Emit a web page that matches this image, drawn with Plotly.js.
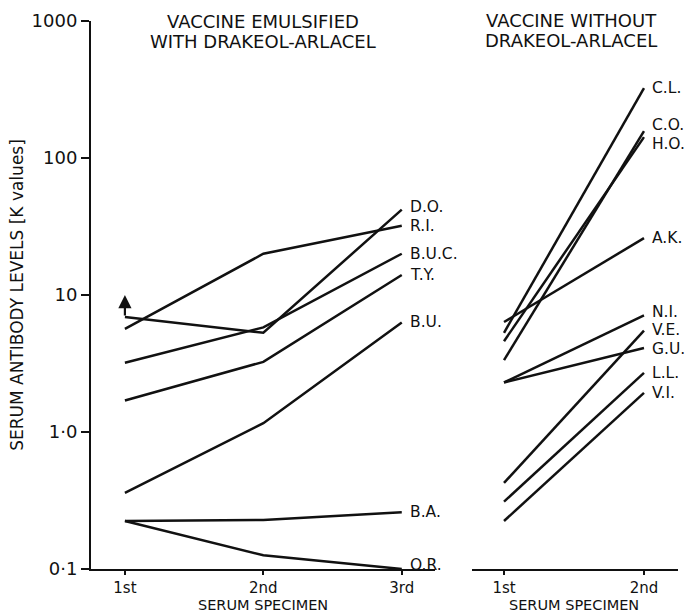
<!DOCTYPE html>
<html>
<head>
<meta charset="utf-8">
<script src="https://cdn.plot.ly/plotly-3.0.1.min.js"></script>
<style>html,body{margin:0;padding:0;background:#fff;}#chart{width:688px;height:615px;}</style>
</head>
<body>
<div id="chart"></div>
<script>
// ---- data ----
const leftCats = ['1st', '2nd', '3rd'];
const rightCats = ['1st', '2nd'];

// Vaccine emulsified with Drakeol-Arlacel (K values at 1st, 2nd, 3rd specimen)
const leftNames = ['D.O.', 'R.I.', 'B.U.C.', 'T.Y.', 'B.U.', 'B.A.', 'O.R.'];
const DO  = [6.9, 5.3, 42];
const RI  = [5.65, 20, 32];
const BUC = [3.2, 5.8, 20];
const TY  = [1.7, 3.25, 14];
const BU  = [0.36, 1.16, 6.3];
const BA  = [0.224, 0.228, 0.26];
const OR  = [0.224, 0.126, 0.10];
const leftSeries = [DO, RI, BUC, TY, BU, BA, OR];
// D.O. first value is a lower bound (arrow up to this level)
const DOarrowTo = 10;

// Vaccine without Drakeol-Arlacel (K values at 1st, 2nd specimen)
const rightNames = ['C.L.', 'C.O.', 'H.O.', 'A.K.', 'N.I.', 'V.E.', 'G.U.', 'L.L.', 'V.I.'];
const CL = [5.3, 324];
const CO = [3.35, 157];
const HO = [4.6, 142];
const AK = [6.35, 26];
const NI = [2.3, 7.1];
const VE = [0.425, 5.5];
const GU = [2.3, 4.1];
const LL = [0.31, 2.7];
const VI = [0.224, 1.93];
const rightSeries = [CL, CO, HO, AK, NI, VE, GU, LL, VI];

const yTickVals = [0.1, 1, 10, 100, 1000];
const yTickText = ['0·1', '1·0', '10', '100', '1000'];

// ---- styling ----
const FONT = 'DejaVu Sans, Liberation Sans, sans-serif';
const INK = '#111';
// small vertical nudges (px) for end labels that would otherwise collide
const labelNudge = {'D.O.': 3, 'O.R.': 4, 'C.O.': 6, 'H.O.': -7, 'N.I.': 3, 'V.E.': 1, 'G.U.': -1};

const traces = [];
const annotations = [];
function addSeries(names, series, cats, xa) {
  series.forEach((vals, i) => {
    traces.push({
      type: 'scatter', mode: 'lines',
      x: cats, y: vals, xaxis: xa, yaxis: 'y',
      line: {color: INK, width: 2.5},
      hoverinfo: 'skip', showlegend: false
    });
    const last = vals.length - 1;
    annotations.push({
      xref: xa, yref: 'y', x: cats[last], y: Math.log10(vals[last]),
      xanchor: 'left', yanchor: 'middle', xshift: 6, yshift: labelNudge[names[i]] || 0,
      showarrow: false, text: names[i],
      font: {family: FONT, size: 15.5, color: INK}
    });
  });
}
addSeries(leftNames, leftSeries, leftCats, 'x');
addSeries(rightNames, rightSeries, rightCats, 'x2');

const titleFont = {family: FONT, size: 18, color: INK};
const specFont = {family: FONT, size: 14.5, color: INK};
annotations.push(
  {xref: 'x', yref: 'paper', x: 1, y: 1, yanchor: 'middle', yshift: 0, showarrow: false,
   text: 'VACCINE EMULSIFIED', font: titleFont},
  {xref: 'x', yref: 'paper', x: 1, y: 1, yanchor: 'middle', yshift: -20, showarrow: false,
   text: 'WITH DRAKEOL-ARLACEL', font: titleFont},
  {xref: 'x2', yref: 'paper', x: 0.48, y: 1, yanchor: 'middle', yshift: 1, showarrow: false,
   text: 'VACCINE WITHOUT', font: titleFont},
  {xref: 'x2', yref: 'paper', x: 0.48, y: 1, yanchor: 'middle', yshift: -19, showarrow: false,
   text: 'DRAKEOL-ARLACEL', font: titleFont},
  {xref: 'x', yref: 'paper', x: 1, y: 0, yanchor: 'bottom', yshift: -46, showarrow: false,
   text: 'SERUM SPECIMEN', font: specFont},
  {xref: 'x2', yref: 'paper', x: 0.5, y: 0, yanchor: 'bottom', yshift: -46, showarrow: false,
   text: 'SERUM SPECIMEN', font: specFont},
  {xref: 'x', yref: 'y', x: 0, y: Math.log10(DOarrowTo), axref: 'x', ayref: 'y',
   ax: 0, ay: Math.log10(DO[0]), showarrow: true, arrowhead: 2, arrowsize: 1.2,
   arrowwidth: 2.2, arrowcolor: INK, text: ''}
);

const axisCommon = {
  type: 'category', showgrid: false, zeroline: false, showline: true,
  linecolor: INK, linewidth: 2, ticks: 'outside', ticklen: 4, tickwidth: 2,
  tickcolor: INK, tickfont: {family: FONT, size: 15, color: INK}, fixedrange: true
};

const layout = {
  width: 688, height: 615,
  margin: {l: 91, r: 10, t: 21, b: 46},
  paper_bgcolor: '#fff', plot_bgcolor: '#fff',
  font: {family: FONT, color: INK},
  xaxis: Object.assign({}, axisCommon, {domain: [0, 0.586], range: [-0.245, 2.24], anchor: 'y'}),
  xaxis2: Object.assign({}, axisCommon, {domain: [0.649, 1], range: [-0.229, 1.243], anchor: 'y'}),
  yaxis: {
    type: 'log', range: [-1, 3], anchor: 'x', showgrid: false, zeroline: false,
    showline: true, linecolor: INK, linewidth: 2, ticks: 'outside', ticklen: 8, tickwidth: 2,
    tickcolor: INK, tickvals: yTickVals, ticktext: yTickText,
    tickfont: {family: FONT, size: 18, color: INK},
    title: {text: 'SERUM ANTIBODY LEVELS [K values]', font: {family: FONT, size: 17, color: INK}, standoff: 4}
  },
  annotations: annotations
};

Plotly.newPlot('chart', traces, layout, {displayModeBar: false, staticPlot: true});
</script>
</body>
</html>
